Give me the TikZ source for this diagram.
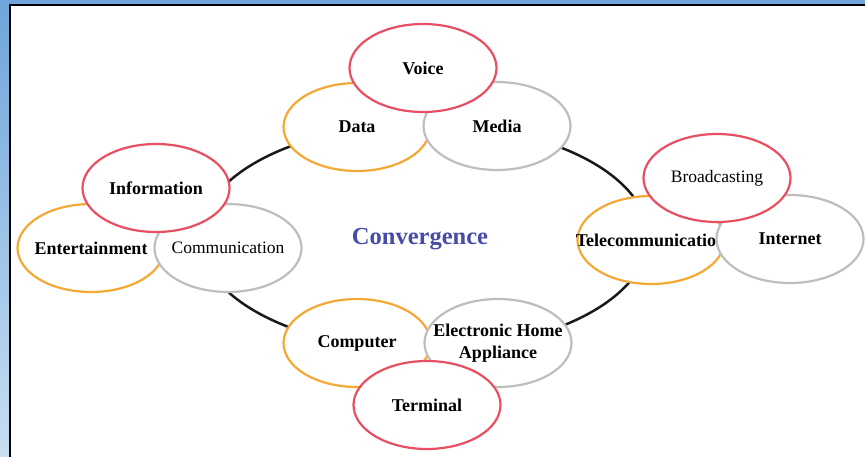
\documentclass[tikz,border=0pt]{standalone}
\usepackage{fontspec}
\setmainfont{Liberation Serif}
\usetikzlibrary{shapes.geometric}
\definecolor{cred}{RGB}{232,80,98}
\definecolor{corange}{RGB}{245,168,52}
\definecolor{cgray}{RGB}{190,190,190}
\definecolor{cconv}{RGB}{70,76,168}
\definecolor{btop}{RGB}{110,165,218}
\definecolor{bbot}{RGB}{200,222,242}
\tikzset{
  bubble/.style={ellipse, fill=white, line width=2.2pt, inner sep=0pt,
    minimum width=147pt, minimum height=88pt,
    label={[font=\fontsize{18}{22}\selectfont\bfseries, align=center]center:#1}},
  bubblelight/.style={ellipse, fill=white, line width=2.2pt, inner sep=0pt,
    minimum width=147pt, minimum height=88pt,
    label={[font=\fontsize{17.5}{21}\selectfont, align=center]center:#1}},
  ring/.style={line width=2.5pt, black!90}
}
\begin{document}
\begin{tikzpicture}[x=1pt,y=-1pt]
\useasboundingbox (0,0) rectangle (865,457);
% frame
\shade[top color=btop, bottom color=bbot] (0,0) rectangle (865,457);
\fill[white] (10,5) rectangle (866,458);
\draw[line width=1.8pt] (10,458) -- (10,5) -- (866,5);
% ring
\draw[ring] (424,237) ellipse [x radius=224, y radius=113];
% top group
\node[bubble=Data, draw=corange] (data) at (357,127) {};
\node[bubble=Media, draw=cgray] (media) at (497,126) {};
\node[bubble=Voice, draw=cred] (voice) at (423,68) {};
% left group
\node[bubble=Entertainment, draw=corange] (ent) at (91,248) {};
\node[bubblelight=Communication, draw=cgray] (comm) at (228,248) {};
\node[bubble=Information, draw=cred] (info) at (156,188) {};
% right group
\node[bubble=Telecommunication, draw=corange] (tele) at (651,240) {};
\node[bubble=Internet, draw=cgray] (inet) at (790,239) {};
\node[bubblelight=Broadcasting, draw=cred] (broad) at (717,178) {};
% bottom group
\node[bubble=Computer, draw=corange] (comp) at (357,343) {};
\node[bubble={Electronic Home\\Appliance}, draw=cgray] (eha) at (498,343) {};
\node[bubble=Terminal, draw=cred] (term) at (427,405) {};
% centre
\node[font=\fontsize{24.5}{28}\selectfont\bfseries, text=cconv] (conv) at (420,239) {Convergence};
\end{tikzpicture}
\end{document}
